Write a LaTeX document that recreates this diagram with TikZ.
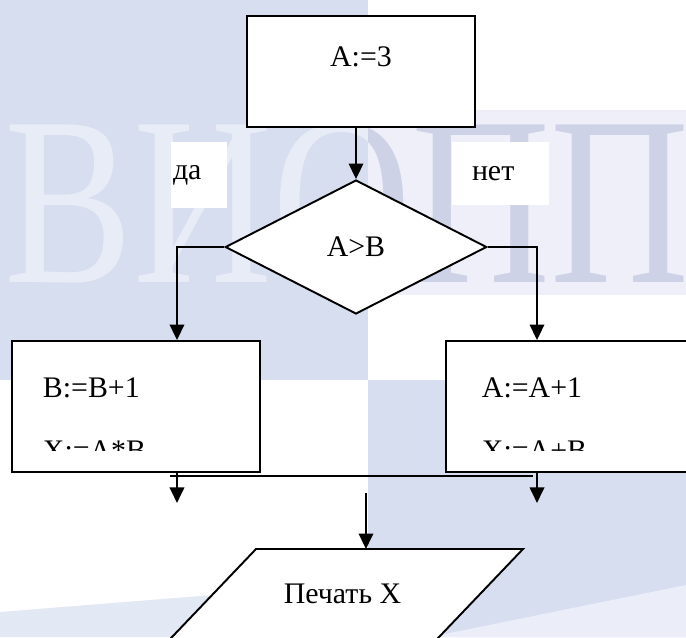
\documentclass[tikz,border=0pt]{standalone}
\usepackage{fontspec}
\setmainfont{Liberation Serif}
\usepackage{tikz}
\usetikzlibrary{arrows.meta,positioning,shapes.geometric}
\definecolor{bgblue}{RGB}{215,222,240}
\definecolor{bgpale}{RGB}{238,239,248}
\definecolor{markleft}{RGB}{232,236,247}
\definecolor{markright}{RGB}{206,210,230}

\begin{document}
\begin{tikzpicture}[x=0.02cm, y=-0.02cm, line width=1.1pt,
  every node/.style={font=\fontsize{17}{20}\selectfont},
  block/.style={draw, fill=white, inner sep=0pt},
  flow/.style={-{Triangle[length=0.31cm,width=0.29cm]}},
  answer/.style={fill=white, inner ysep=0pt, align=left},
  lines/.style={anchor=north west, inner sep=0pt, align=left, font=\fontsize{17}{35.8}\selectfont},
  watermark/.style={anchor=base west, inner sep=0pt, xscale=0.8, font=\fontsize{137}{137}\selectfont}]
\useasboundingbox (0,0) rectangle (686,637);
\clip (0,0) rectangle (686,637);
% background
\fill[white] (0,0) rectangle (686,637);
\fill[bgblue] (0,0) rectangle (368,380);
\fill[bgpale] (368,110) rectangle (686,295);
\fill[bgblue] (368,380) rectangle (686,637);
\fill[white!50!bgblue] (430,637) -- (686,585) -- (686,637) -- cycle;
\fill[bgblue!70] (0,637) -- (0,612) -- (300,588) -- (400,637) -- cycle;
\begin{scope}
\clip (0,0) rectangle (368,637);
\node[watermark, text=markleft] (markl) at (4,282) {ВИОПП};
\end{scope}
\begin{scope}
\clip (368,0) rectangle (686,637);
\node[watermark, text=markright] (markr) at (4,282) {ВИОПП};
\end{scope}
% blocks
\node[block, minimum width=4.56cm, text height=1cm, text depth=1.22cm] (start) at (361,71.5) {A:=3};
\node[block, diamond, minimum width=5.23cm, minimum height=2.68cm] (cond) at (356,247) {A>B};
\node[answer, text width=1.04cm, inner xsep=0.04cm, minimum height=1.32cm] (da) at (199,175) {да};
\node[answer, text width=1.14cm, inner xsep=0.4cm, minimum height=1.26cm] (net) at (500.5,173.5) {нет};
\node[block, minimum width=4.96cm, minimum height=2.62cm] (yes) at (136,406.5) {};
\node[block, minimum width=4.96cm, minimum height=2.62cm] (no) at (570,406.5) {};
\begin{scope}
\clip (yes.north west) rectangle ([yshift=0.44cm]no.south east);
\node[lines] (yestext) at (42,377) {B:=B+1\\X:=A*B};
\node[lines] (notext) at (481,377) {A:=A+1\\X:=A+B};
\end{scope}
% output parallelogram
\coordinate (printtop) at (256,549);
\draw[fill=white] (printtop) -- (523,549) -- (431.4,645) -- (164.4,645) -- cycle;
\node (print) at (342.5,594) {Печать X};
% arrows
\draw[flow] (cond.north |- start.south) -- (cond.north);
\draw[flow] (cond.west) -| ([xshift=0.82cm]yes.north);
\draw[flow] (cond.east) -| ([xshift=-0.66cm]no.north);
\draw ([xshift=0.69cm, yshift=-0.06cm]yes.south) -- ([xshift=-0.75cm, yshift=-0.06cm]no.south);
\coordinate (yesout) at ([xshift=0.82cm, yshift=-0.6cm]yes.south);
\coordinate (noout) at ([xshift=-0.66cm, yshift=-0.6cm]no.south);
\draw[flow] ([xshift=0.82cm]yes.south) -- (yesout);
\draw[flow] ([xshift=-0.66cm]no.south) -- (noout);
\coordinate[above=1.12cm of printtop, xshift=2.2cm] (join);
\draw[flow] (join) -- (join |- printtop);
\end{tikzpicture}
\end{document}
